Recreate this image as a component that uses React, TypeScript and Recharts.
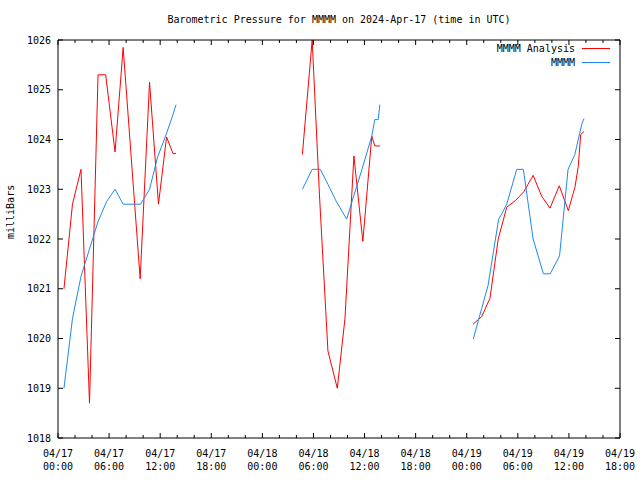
import { LineChart, Line, XAxis, YAxis } from "recharts"

// hours after 04/17 00:00 UTC, pressure in mBar (null = gap)
const analysisHours = [
  0.7, 1.7, 2.7, 3.7, 4.7, 5.6, 6.7, 7.65, 8.7, 9.65, 10.75, 11.8, 12.75, 13.5, 13.86,
  20,
  28.7, 29.85, 30.7, 31.7, 32.8, 33.7, 34.75, 35.8, 36.85, 37.2, 37.8,
  43,
  48.77, 49.76, 50.73, 51.7, 52.7, 53.7, 54.7, 55.8, 56.8, 57.78, 58.87, 59.93, 60.72, 61.1, 61.38, 61.77,
]
const analysisMb = [
  1021.0, 1022.7, 1023.4, 1018.7, 1025.3, 1025.3, 1023.75, 1025.85, 1023.4, 1021.2, 1025.15, 1022.7, 1024.05, 1023.72, 1023.72,
  null,
  1023.7, 1026.0, 1022.9, 1019.75, 1019.0, 1020.4, 1023.67, 1021.95, 1024.07, 1023.87, 1023.87,
  null,
  1020.29, 1020.44, 1020.81, 1022.0, 1022.64, 1022.77, 1022.95, 1023.28, 1022.86, 1022.62, 1023.07, 1022.57, 1023.05, 1023.46, 1024.1, 1024.16,
]

const stationHours = [
  0.7, 1.7, 2.7, 3.7, 4.7, 5.7, 6.7, 7.65, 9.7, 10.75, 11.7, 12.7, 13.5, 13.86,
  20,
  28.7, 29.85, 30.8, 31.7, 32.7, 33.9, 34.7, 35.7, 36.85, 37.2, 37.6, 37.8,
  43,
  48.77, 49.75, 50.5, 51.75, 52.1, 52.7, 53.87, 54.65, 55.8, 57.0, 57.8, 58.9, 59.9, 60.7, 61.5, 61.77,
]
const stationMb = [
  1019.0, 1020.4, 1021.25, 1021.8, 1022.35, 1022.75, 1023.0, 1022.7, 1022.7, 1023.0, 1023.65, 1024.1, 1024.5, 1024.7,
  null,
  1023.0, 1023.4, 1023.4, 1023.1, 1022.75, 1022.4, 1022.85, 1023.4, 1024.07, 1024.4, 1024.4, 1024.7,
  null,
  1019.99, 1020.6, 1021.06, 1022.4, 1022.5, 1022.7, 1023.4, 1023.4, 1022.0, 1021.3, 1021.3, 1021.66, 1023.4, 1023.7, 1024.3, 1024.42,
]

const tickDates = ["04/17", "04/17", "04/17", "04/17", "04/18", "04/18", "04/18", "04/18", "04/19", "04/19", "04/19", "04/19"]
const tickTimes = ["00:00", "06:00", "12:00", "18:00", "00:00", "06:00", "12:00", "18:00", "00:00", "06:00", "12:00", "18:00"]
const yTicks = [1018, 1019, 1020, 1021, 1022, 1023, 1024, 1025, 1026]

const xTicks = Array.from({ length: 34 }, (_, i) => i * 2)

const analysisData = analysisHours.map((h, i) => ({ h, mb: analysisMb[i] }))
const stationData = stationHours.map((h, i) => ({ h, mb: stationMb[i] }))

const FONT = '"DejaVu Sans Mono", "Liberation Mono", monospace'
const RED = "#ff0000"
const BLUE = "#1e88f0"

const BottomTick = (props: any) => {
  const { x, y, payload } = props
  const major = payload.value % 6 === 0
  const idx = payload.value / 6
  return (
    <g>
      <line x1={x} y1={y} x2={x} y2={y - (major ? 5 : 3)} stroke="#000" />
      {major && (
        <text x={x} y={y + 19} textAnchor="middle" fontSize={10} fontFamily={FONT} fill="#000">
          <tspan x={x}>{tickDates[idx]}</tspan>
          <tspan x={x} dy={13}>{tickTimes[idx]}</tspan>
        </text>
      )}
    </g>
  )
}

const TopTick = (props: any) => {
  const { x, y, payload } = props
  const major = payload.value % 6 === 0
  return <line x1={x} y1={y} x2={x} y2={y + (major ? 5 : 3)} stroke="#000" />
}

const LeftTick = (props: any) => {
  const { x, y, payload } = props
  return (
    <g>
      <line x1={x} y1={y} x2={x + 5} y2={y} stroke="#000" />
      <text x={x - 7} y={y + 3.5} textAnchor="end" fontSize={10} fontFamily={FONT} fill="#000">
        {payload.value}
      </text>
    </g>
  )
}

const RightTick = (props: any) => {
  const { x, y } = props
  return <line x1={x} y1={y} x2={x - 5} y2={y} stroke="#000" />
}

export default function App() {
  return (
    <div style={{ position: "absolute", left: 0, top: 0, width: 640, height: 480, background: "#fff" }}>
      <LineChart width={640} height={480} margin={{ top: 39, right: 19, bottom: 0, left: 0 }}>
        <XAxis
          dataKey="h"
          type="number"
          domain={[0, 66]}
          ticks={xTicks}
          interval={0}
          height={42}
          tickSize={0}
          tickMargin={0}
          tick={<BottomTick />}
          axisLine={{ stroke: "#000" }}
        />
        <XAxis
          xAxisId="top"
          dataKey="h"
          orientation="top"
          type="number"
          domain={[0, 66]}
          ticks={xTicks}
          interval={0}
          height={1}
          tickSize={0}
          tickMargin={0}
          tick={<TopTick />}
          axisLine={{ stroke: "#000" }}
        />
        <YAxis
          type="number"
          domain={[1018, 1026]}
          ticks={yTicks}
          interval={0}
          width={58}
          tickSize={0}
          tickMargin={0}
          tick={<LeftTick />}
          axisLine={{ stroke: "#000" }}
          label={{ value: "milliBars", angle: -90, position: "insideLeft", offset: 10, fontSize: 10, fontFamily: FONT, fill: "#000" }}
        />
        <YAxis
          yAxisId="right"
          orientation="right"
          type="number"
          domain={[1018, 1026]}
          ticks={yTicks}
          interval={0}
          width={1}
          tickSize={0}
          tickMargin={0}
          tick={<RightTick />}
          axisLine={{ stroke: "#000" }}
        />
        <Line
          data={analysisData}
          dataKey="mb"
          name="MMMM Analysis"
          type="linear"
          stroke={RED}
          strokeWidth={1}
          dot={false}
          activeDot={false}
          isAnimationActive={false}
        />
        {/* same scales as the bottom/left axes; bound to top/right so the frame draws */}
        <Line
          data={stationData}
          dataKey="mb"
          xAxisId="top"
          yAxisId="right"
          name="MMMM"
          type="linear"
          stroke={BLUE}
          strokeWidth={1}
          dot={false}
          activeDot={false}
          isAnimationActive={false}
        />
      </LineChart>
      <svg width={640} height={480} style={{ position: "absolute", left: 0, top: 0, pointerEvents: "none" }}>
        <text x={339} y={23} textAnchor="middle" fontSize={10} fontFamily={FONT} fill="#000">
          Barometric Pressure for MMMM on 2024-Apr-17 (time in UTC)
        </text>
        {[
          { name: "MMMM Analysis", color: RED },
          { name: "MMMM", color: BLUE },
        ].map((s, i) => (
          <g key={s.name}>
            <text x={575} y={52 + i * 14} textAnchor="end" fontSize={10} fontFamily={FONT} fill="#000">
              {s.name}
            </text>
            <line x1={582} x2={610} y1={48.5 + i * 14} y2={48.5 + i * 14} stroke={s.color} />
          </g>
        ))}
      </svg>
    </div>
  )
}
